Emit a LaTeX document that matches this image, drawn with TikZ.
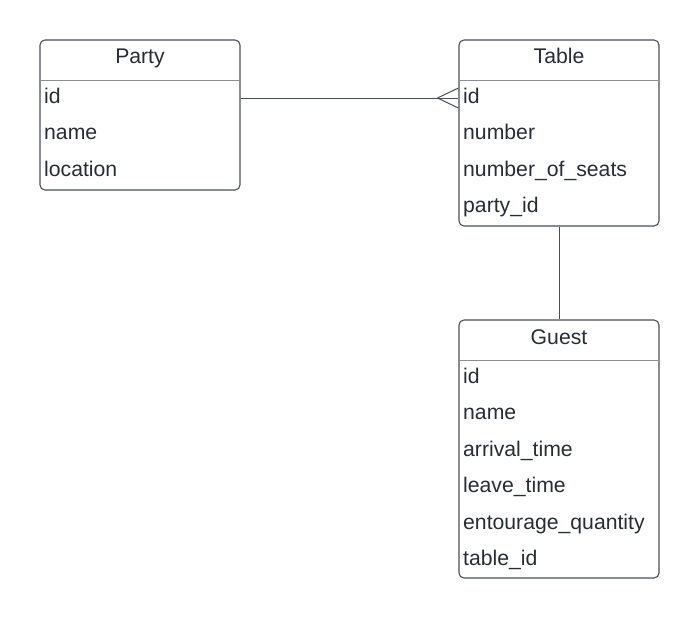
\documentclass[tikz,border=0pt]{standalone}
\usepackage{fontspec}
\setmainfont{Liberation Sans}
\usepackage{xcolor}
\usetikzlibrary{positioning, calc}

\definecolor{boxline}{HTML}{4A4F57}
\definecolor{sepline}{HTML}{8C9096}
\definecolor{txt}{HTML}{282C33}

\begin{document}
\begin{tikzpicture}[
    x=1pt, y=-1pt,
    entity/.style={rectangle, draw=boxline, line width=1.1pt, rounded corners=5pt, minimum width=200pt, inner sep=0pt},
    title/.style={text=txt, font=\fontsize{21.2}{25}\selectfont, text height=15pt, text depth=5pt, inner sep=0pt},
    field/.style={title, anchor=west},
    sep/.style={draw=sepline, line width=0.9pt},
    link/.style={draw=boxline, line width=1pt}
]
\useasboundingbox (0,0) rectangle (699,618);

% Party
\node[entity, minimum height=150pt] (party) at (140,115) {};
\node[title] (party-t) at (140,59) {Party};
\draw[sep] (party.west |- 0,80) -- (party.east |- 0,80);
\node[field] (p-id) at (44,98) {id};
\node[field] (p-name) at (44,134.5) {name};
\node[field] (p-loc) at (44,171) {location};

% Table
\node[entity, minimum height=186pt] (table) at (559,133) {};
\node[title] (table-t) at (559,59) {Table};
\draw[sep] (table.west |- 0,80) -- (table.east |- 0,80);
\node[field] (t-id) at (463,98) {id};
\node[field] (t-num) at (463,134.5) {number};
\node[field] (t-seats) at (463,171) {number\_of\_seats};
\node[field] (t-party) at (463,207.5) {party\_id};

% Guest
\node[entity, minimum height=258pt] (guest) at (559,449) {};
\node[title] (guest-t) at (559,339) {Guest};
\draw[sep] (guest.west |- 0,360) -- (guest.east |- 0,360);
\node[field] (g-id) at (463,378) {id};
\node[field] (g-name) at (463,414.5) {name};
\node[field] (g-arr) at (463,451) {arrival\_time};
\node[field] (g-leave) at (463,487.5) {leave\_time};
\node[field] (g-ent) at (463,524) {entourage\_quantity};
\node[field] (g-tab) at (463,560.5) {table\_id};

% relations
\coordinate (crow) at (table.west |- t-id);
\draw[link] (party.east |- p-id) -- (crow);
\draw[link] ($(crow)+(-21,0)$) -- ($(crow)+(0,-10)$);
\draw[link] ($(crow)+(-21,0)$) -- ($(crow)+(0,10)$);
\draw[link] (table.south) -- (guest.north);

\end{tikzpicture}
\end{document}
